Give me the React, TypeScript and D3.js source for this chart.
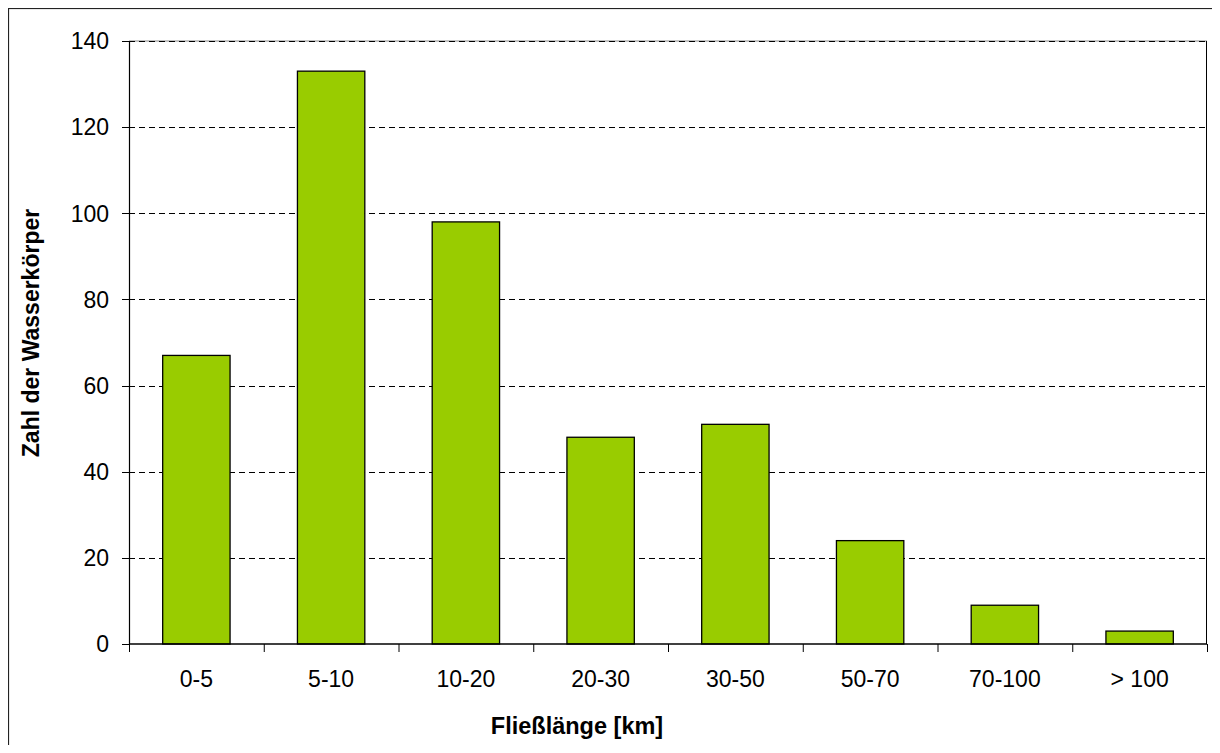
import React from "react";
import * as d3 from "d3";

const categories: string[] = ["0-5", "5-10", "10-20", "20-30", "30-50", "50-70", "70-100", "> 100"];
const counts: number[] = [67, 133, 98, 48, 51, 24, 9, 3];
const yTicks: number[] = [0, 20, 40, 60, 80, 100, 120, 140];
const xTitle = "Fließlänge [km]";
const yTitle = "Zahl der Wasserkörper";

export default function App() {
  const W = 1212;
  const H = 737;
  const left = 121, right = 1199, top = 33, bottom = 636;
  const font = "'Liberation Sans', Arial, sans-serif";

  const x = d3.scaleBand<string>().domain(categories).range([left, right]).paddingInner(0.5).paddingOuter(0.25);
  const y = d3.scaleLinear().domain([0, 140]).range([bottom, top]);
  const step = x.step();

  return (
    <svg width={W} height={H} style={{ display: "block", overflow: "hidden" }}>
      <rect x={0} y={0} width={W} height={H} fill="#fff" />
      <rect x={0.5} y={0.5} width={1208} height={800} fill="none" stroke="#222" strokeWidth={1.2} />
      {/* top plot border (gray) */}
      <line x1={left} x2={right} y1={y(140)} y2={y(140)} stroke="#888" strokeWidth={1} />
      {/* gridlines */}
      {yTicks.filter((t) => t > 0).map((t) => (
        <line key={"g" + t} x1={left} x2={right} y1={Math.round(y(t)) + 0.5} y2={Math.round(y(t)) + 0.5}
          stroke="#000" strokeWidth={1} strokeDasharray="6,4" />
      ))}
      {/* right border */}
      <line x1={right - 0.5} x2={right - 0.5} y1={top} y2={bottom} stroke="#000" strokeWidth={1} />
      {/* bars */}
      {categories.map((c, i) => (
        <rect key={c} x={x(c)!} y={y(counts[i])} width={x.bandwidth()} height={y(0) - y(counts[i])}
          fill="#99CC00" stroke="#000" strokeWidth={1.3} />
      ))}
      {/* y axis */}
      <line x1={left + 0.5} x2={left + 0.5} y1={top} y2={bottom} stroke="#000" strokeWidth={1.2} />
      {yTicks.map((t) => (
        <g key={"yt" + t}>
          <line x1={left - 7} x2={left} y1={Math.round(y(t)) + 0.5} y2={Math.round(y(t)) + 0.5} stroke="#000" strokeWidth={1} />
          <text x={101} y={y(t)} dy="0.36em" textAnchor="end" fontFamily={font} fontSize={23} fill="#000">{t}</text>
        </g>
      ))}
      {/* x axis */}
      <line x1={left} x2={right} y1={bottom} y2={bottom} stroke="#000" strokeWidth={1.5} />
      {d3.range(categories.length + 1).map((i) => (
        <line key={"xt" + i} x1={left + i * step + 0.5} x2={left + i * step + 0.5} y1={bottom} y2={bottom + 8} stroke="#000" strokeWidth={1} />
      ))}
      {categories.map((c) => (
        <text key={"xl" + c} x={x(c)! + x.bandwidth() / 2} y={679} textAnchor="middle" fontFamily={font} fontSize={23} fill="#000">{c}</text>
      ))}
      <text x={569} y={726} textAnchor="middle" fontFamily={font} fontSize={23.5} fontWeight="bold" fill="#000">{xTitle}</text>
      <text transform={`translate(31,${325}) rotate(-90)`} textAnchor="middle" fontFamily={font} fontSize={23} fontWeight="bold" fill="#000">{yTitle}</text>
    </svg>
  );
}
